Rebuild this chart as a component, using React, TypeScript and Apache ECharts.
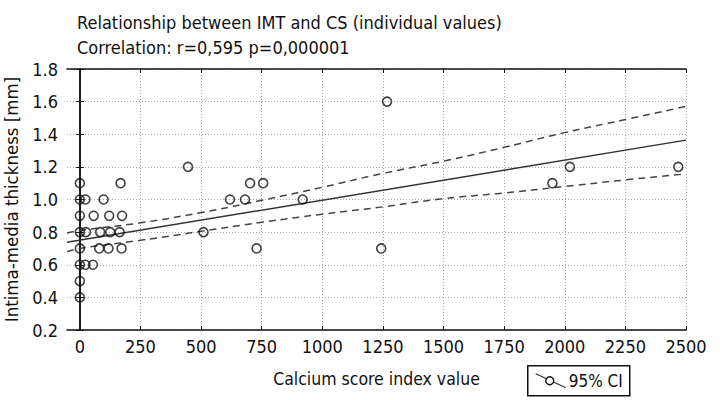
import React, { useEffect, useRef } from "react";
import * as echarts from "echarts";

const xTicks = [0, 250, 500, 750, 1000, 1250, 1500, 1750, 2000, 2250, 2500];
const pointsX = [
  0, 168, 0, 23, 98, 0, 57, 121, 174, 0, 25, 84, 125, 164, 0, 80, 118, 172, 0, 23, 54, 0, 0,
  446, 510, 619, 681, 702, 756, 729, 919, 1267, 1243, 1949, 2021, 2468,
];
const pointsY = [
  1.1, 1.1, 1.0, 1.0, 1.0, 0.9, 0.9, 0.9, 0.9, 0.8, 0.8, 0.8, 0.8, 0.8, 0.7, 0.7, 0.7, 0.7, 0.6, 0.6, 0.6, 0.5, 0.4,
  1.2, 0.8, 1.0, 1.0, 1.1, 1.1, 0.7, 1.0, 1.6, 0.7, 1.1, 1.2, 1.2,
];
const fitX = [-53, 2500];
const fitY = [0.738, 1.364];
const ciX = [-53, 0, 250, 500, 750, 1000, 1250, 1500, 1750, 2000, 2250, 2500];
const ciUpper = [0.795, 0.81, 0.857, 0.92, 0.995, 1.075, 1.16, 1.235, 1.32, 1.41, 1.49, 1.571];
const ciLower = [0.68, 0.7, 0.75, 0.805, 0.86, 0.91, 0.955, 1.005, 1.04, 1.08, 1.12, 1.157];

const FONT = "'Liberation Sans Narrow', 'DejaVu Sans Condensed', sans-serif";

export default function App() {
  const ref = useRef<HTMLDivElement>(null);
  useEffect(() => {
    if (!ref.current) return;
    const chart = echarts.init(ref.current, null, { renderer: "svg" });
    const xMin = -53;
    const xMax = 2500;
    const axisLine = { show: true, lineStyle: { color: "#111", width: 1.5 } };
    chart.setOption({
      animation: false,
      backgroundColor: "#fff",
      textStyle: { fontFamily: FONT },
      title: [
        {
          text: "Relationship between IMT and CS (individual values)",
          left: 72,
          top: 8,
          textStyle: { fontFamily: FONT, fontSize: 18, fontWeight: "normal", color: "#111" },
        },
        {
          text: "Correlation: r=0,595 p=0,000001",
          left: 72,
          top: 33,
          textStyle: { fontFamily: FONT, fontSize: 18, fontWeight: "normal", color: "#111" },
        },
      ],
      grid: { left: 67, right: 34, top: 69, bottom: 70, containLabel: false, outerBoundsMode: "none" },
      xAxis: [
        {
          type: "value",
          min: xMin,
          max: xMax,
          position: "bottom",
          name: "Calcium score index value",
          nameLocation: "middle",
          nameGap: 40,
          nameTextStyle: { fontFamily: FONT, fontSize: 17.5, color: "#111" },
          axisLine,
          axisTick: { show: true, inside: true, length: 4, customValues: xTicks, lineStyle: { color: "#111" } },
          axisLabel: {
            customValues: xTicks,
            fontFamily: FONT,
            fontSize: 18,
            color: "#111",
            margin: 7,
            formatter: (v: number) => String(v),
          },
          splitLine: { show: true, lineStyle: { color: "#aaa", type: [1, 2], width: 1 } },
        },
        {
          type: "value",
          min: xMin,
          max: xMax,
          position: "top",
          axisLine,
          axisTick: { show: true, inside: true, length: 4, customValues: xTicks, lineStyle: { color: "#111" } },
          axisLabel: { show: false, customValues: xTicks },
          splitLine: { show: false },
        },
      ],
      yAxis: [
        {
          type: "value",
          min: 0.2,
          max: 1.8,
          interval: 0.2,
          name: "Intima-media thickness [mm]",
          nameLocation: "middle",
          nameGap: 43,
          nameTextStyle: { fontFamily: FONT, fontSize: 18.5, color: "#111" },
          axisLine,
          axisTick: { show: true, inside: true, length: 4, lineStyle: { color: "#111" } },
          axisLabel: {
            fontFamily: FONT,
            fontSize: 18,
            color: "#111",
            margin: 9,
            formatter: (v: number) => v.toFixed(1),
          },
          splitLine: { show: true, lineStyle: { color: "#aaa", type: [1, 2], width: 1 } },
        },
        {
          type: "value",
          min: 0.2,
          max: 1.8,
          interval: 0.2,
          position: "right",
          axisLine,
          axisTick: { show: true, inside: true, length: 4, lineStyle: { color: "#111" } },
          axisLabel: { show: false },
          splitLine: { show: false },
        },
      ],
      series: [
        {
          type: "line",
          name: "Fit",
          data: fitX.map((x, i) => [x, fitY[i]]),
          symbol: "none",
          lineStyle: { color: "#333", width: 1.5 },
          z: 3,
        },
        {
          type: "line",
          name: "95% CI upper",
          data: ciX.map((x, i) => [x, ciUpper[i]]),
          symbol: "none",
          smooth: true,
          lineStyle: { color: "#444", width: 1.5, type: [7, 5] },
          z: 3,
        },
        {
          type: "line",
          name: "95% CI lower",
          data: ciX.map((x, i) => [x, ciLower[i]]),
          symbol: "none",
          smooth: true,
          lineStyle: { color: "#444", width: 1.5, type: [7, 5] },
          z: 3,
        },
        {
          type: "scatter",
          name: "Values",
          data: pointsX.map((x, i) => [x, pointsY[i]]),
          symbol: "circle",
          symbolSize: 9,
          itemStyle: { color: "rgba(255,255,255,0)", borderColor: "#111", borderWidth: 1.6 },
          z: 4,
        },
      ],
      graphic: [
        {
          type: "group",
          left: 527,
          top: 365,
          children: [
            { type: "rect", shape: { x: 0, y: 0, width: 102, height: 30 }, style: { fill: "#fff", stroke: "#111", lineWidth: 1.5 } },
            { type: "line", shape: { x1: 8, y1: 8, x2: 38, y2: 22 }, style: { stroke: "#333", lineWidth: 1.3 } },
            { type: "circle", shape: { cx: 22, cy: 15, r: 4 }, style: { fill: "#fff", stroke: "#111", lineWidth: 1.4 } },
            {
              type: "text",
              x: 41,
              y: 15,
              style: { text: "95% CI", font: `17px ${FONT}`, fill: "#111", textVerticalAlign: "middle" },
            },
          ],
        },
      ],
    });
    return () => chart.dispose();
  }, []);
  return <div ref={ref} style={{ position: "fixed", left: 0, top: 0, width: 720, height: 400 }} />;
}
